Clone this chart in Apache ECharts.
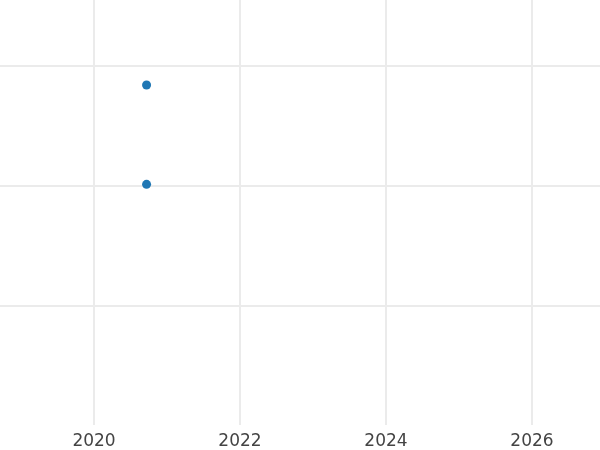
<!DOCTYPE html>
<html>
<head>
<meta charset="utf-8">
<script src="https://cdn.jsdelivr.net/npm/echarts@6/dist/echarts.min.js"></script>
<style>
html,body{margin:0;padding:0;background:#fff;}
#chart{width:600px;height:450px;}
</style>
</head>
<body>
<div id="chart"></div>
<script>
var xValues = [2020.72, 2020.72];
var yValues = [2.84, 2.01];
var xTickLabels = [2020, 2022, 2024, 2026];
var yTicks = [1, 2, 3];

var points = xValues.map(function (x, i) { return [x, yValues[i]]; });

var chart = echarts.init(document.getElementById('chart'), null, {renderer: 'canvas'});
chart.setOption({
  animation: false,
  backgroundColor: '#ffffff',
  grid: {left: 0, right: 0, top: 0, bottom: 24, containLabel: false},
  xAxis: {
    type: 'value',
    min: 2018.712,
    max: 2026.932,
    axisLine: {show: false},
    axisTick: {show: false, customValues: xTickLabels},
    axisLabel: {
      show: true,
      customValues: xTickLabels,
      margin: 8,
      color: '#444444',
      fontSize: 17,
      fontFamily: 'DejaVu Sans',
      formatter: function (v) { return String(v); }
    },
    splitLine: {show: true, lineStyle: {color: '#ebebeb', width: 2}}
  },
  yAxis: {
    type: 'value',
    min: 0,
    max: 3.55,
    axisLine: {show: false},
    axisTick: {show: false, customValues: yTicks},
    axisLabel: {show: false, customValues: yTicks},
    splitLine: {show: true, lineStyle: {color: '#ebebeb', width: 2}}
  },
  series: [{
    type: 'scatter',
    data: points,
    symbol: 'circle',
    symbolSize: 9,
    itemStyle: {color: '#1f77b4', opacity: 1}
  }]
});
</script>
</body>
</html>
